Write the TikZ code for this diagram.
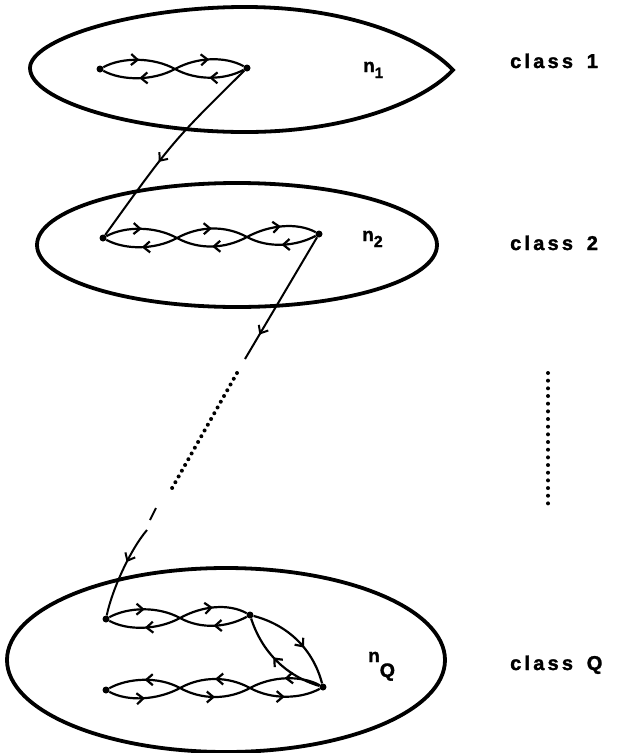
\documentclass[tikz,border=0pt]{standalone}
\usepackage{fontspec}
\newfontfamily\labfont[LetterSpace=16,FakeBold=1.6]{Liberation Sans}
\newfontfamily\nfont[FakeBold=1.6]{Liberation Sans}
\usetikzlibrary{arrows.meta,decorations.markings}
\newcommand\lensfwd[2]{%
  \draw[arc,marr] (#1) .. controls +(22,-12) and +(-22,-12) .. (#2);
  \draw[arc,marr] (#2) .. controls +(-22,12) and +(22,12) .. (#1);}
\newcommand\lensrev[2]{%
  \draw[arc,marr] (#2) .. controls +(-22,-12) and +(22,-12) .. (#1);
  \draw[arc,marr] (#1) .. controls +(22,12) and +(-22,12) .. (#2);}
\begin{document}
\begin{tikzpicture}[x=1pt,y=-1pt,
  ring/.style={line width=3.8pt},
  arc/.style={line width=2.2pt},
  link/.style={line width=2pt},
  dotn/.style={circle,fill,inner sep=0pt,minimum size=7pt},
  marr/.style={postaction={decorate},decoration={markings,mark=at position #1 with {\arrow{Straight Barb[length=6.5pt,width=11pt]}}}},
  marr/.default=0.5,
  classlab/.style={anchor=base west,inner sep=0pt,font=\labfont\bfseries\fontsize{20}{21}\selectfont},
  nlab/.style={anchor=base west,inner sep=0pt,font=\nfont\bfseries\fontsize{19}{20}\selectfont},
  dotline/.style={line width=4pt,line cap=round,dash pattern=on 0pt off #1},
]
\useasboundingbox (0,0) rectangle (618,753);

% containers
\draw[ring] (30,68) .. controls (30,40) and (130,8) .. (240,7)
  .. controls (350,6) and (425,40) .. (453,70)
  .. controls (425,100) and (350,133) .. (240,132)
  .. controls (130,131) and (30,100) .. (30,68) -- cycle;
\draw[ring] (237,245) ellipse [x radius=200, y radius=62];
\draw[ring] (226,660) ellipse [x radius=219, y radius=92];

% class 1
\node[dotn] (a1) at (100,69) {};
\coordinate (ax) at (175,69);
\node[dotn] (a2) at (247,68) {};
\lensfwd{a1}{ax}
\lensfwd{ax}{a2}

% class 2
\node[dotn] (b1) at (103,238) {};
\coordinate (bx1) at (177,238);
\coordinate (bx2) at (247,237);
\node[dotn] (b2) at (319,234) {};
\lensfwd{b1}{bx1}
\lensfwd{bx1}{bx2}
\lensfwd{bx2}{b2}

% class Q
\node[dotn] (q1) at (106,619) {};
\coordinate (qx) at (180,618);
\node[dotn] (qt) at (250,615) {};
\lensfwd{q1}{qx}
\lensfwd{qx}{qt}
\node[dotn] (q3) at (106,690) {};
\coordinate (qy1) at (180,688);
\coordinate (qy2) at (250,688);
\node[dotn] (qb) at (323,687) {};
\lensrev{q3}{qy1}
\lensrev{qy1}{qy2}
\lensrev{qy2}{qb}
\draw[arc,marr=0.6] (qt) .. controls (288,625) and (313,649) .. (qb);
\draw[arc,marr=0.55] (qb) .. controls (286,676) and (262,652) .. (qt);

% links between classes
\draw[link,marr=0.58] (a2) .. controls (172,142) .. (b1);
\coordinate (c2end) at (245,359);
\draw[link,marr=0.8] (b2) -- (c2end);
\coordinate (d1) at (237,373);
\coordinate (d2) at (171,490);
\draw[dotline=6.6pt] (d1) -- (d2);
\coordinate (e1) at (156,508);
\coordinate (e2) at (150,520);
\draw[link] (e1) -- (e2);
\coordinate (f1) at (147,530);
\draw[link,marr=0.4] (f1) .. controls (130,550) and (112,590) .. (q1);

% right-hand dots
\coordinate (v1) at (548,373);
\coordinate (v2) at (548,511);
\draw[dotline=7.67pt] (v1) -- (v2);

% labels
\node[nlab] (n1) at (363,72) {n\raisebox{-6pt}{\fontsize{15}{15}\selectfont 1}};
\node[nlab] (n2) at (362,241) {n\raisebox{-6pt}{\fontsize{16}{16}\selectfont 2}};
\node[nlab] (nQ) at (368,662) {n\raisebox{-15pt}{\fontsize{19.5}{20}\selectfont Q}};
\node[classlab] (c1) at (510,68) {class\hspace{5pt} 1};
\node[classlab] (c2) at (510,250) {class\hspace{5pt} 2};
\node[classlab] (cQ) at (510,670) {class\hspace{5pt} Q};
\end{tikzpicture}
\end{document}
